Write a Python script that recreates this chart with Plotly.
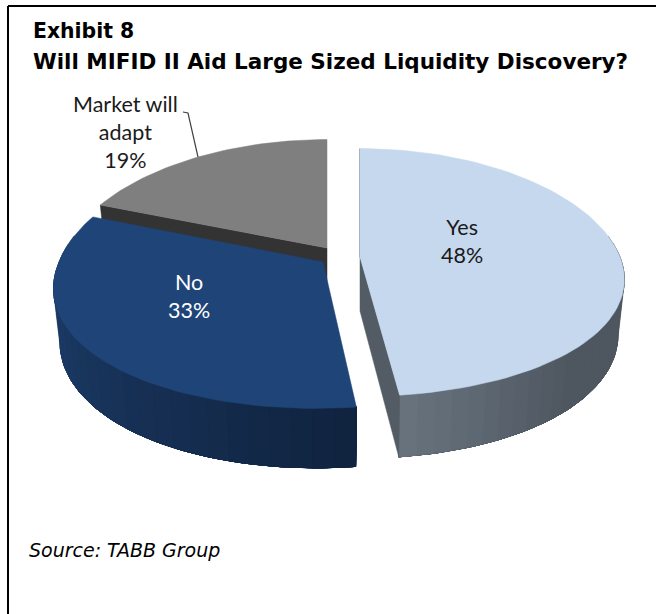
import math
import plotly.graph_objects as go

# Survey results
categories = ["Yes", "No", "Market will<br>adapt"]
values = [48, 33, 19]
top_colors = ["#c5d8ee", "#1f4578", "#7f7f7f"]
cut_colors = ["#535c65", "#16305a", "#333333"]
rim_light = ["#67727d", "#1d3e6c", "#333333"]
rim_dark = ["#4e565f", "#10233f", "#333333"]
text_colors = ["#1a1a1a", "#ffffff", "#1a1a1a"]
W, H = 656, 614

# Perspective pie geometry, in page pixels
RX, RY, KX, KY, TAPER = 260, 122, 0.18, 0.125, 0.024
apexes = [(360, 257), (323, 262), (327, 248)]
widths = [1.0, 1.015, 1.0]
heights = [1.0, 1.05, 1.0]
leans = [0.0, -0.05, 0.0]
depths = [54, 52, 54]


def project(idx, deg, radius=1.0, lowered=False):
    a = math.radians(deg)
    X, Y = radius * math.sin(a), -radius * math.cos(a)
    sx = 1 / (1 - KX * Y)
    sy = 1 / (1 - KY * Y)
    dx = RX * widths[idx] * X * sx + leans[idx] * RY * max(Y, 0) * sy
    dy = RY * heights[idx] * Y * sy
    if lowered:
        dx *= 1 - TAPER
        dy += depths[idx] * sy
    return apexes[idx][0] + dx, apexes[idx][1] + dy


def blend(c1, c2, t):
    p = [int(c1[i:i + 2], 16) for i in (1, 3, 5)]
    q = [int(c2[i:i + 2], 16) for i in (1, 3, 5)]
    return "rgb(%d,%d,%d)" % tuple(round(a + (b - a) * t) for a, b in zip(p, q))


def polygon(points, color):
    xs = [p[0] for p in points] + [points[0][0]]
    ys = [p[1] for p in points] + [points[0][1]]
    return go.Scatter(x=xs, y=ys, mode="lines", fill="toself", fillcolor=color,
                      line=dict(color=color, width=0.5), hoverinfo="skip", showlegend=False)


total = sum(values)
spans = []
start = 0.0
for v in values:
    spans.append((start, start + 360 * v / total))
    start += 360 * v / total

fig = go.Figure()

# Shaded wall bands: each band runs to the far end of the wall and the next one
# paints over it, which leaves no seams between neighbouring colours.
BANDS = 28


def add_wall(idx, t_from, t_to, shade):
    for b in range(BANDS):
        t = t_from + (t_to - t_from) * b / BANDS
        n = max(2, int(abs(t_to - t) / 1.5))
        ts = [t + (t_to - t) * i / n for i in range(n + 1)]
        color = blend(rim_light[idx], rim_dark[idx], shade(b / (BANDS - 1)))
        fig.add_trace(polygon([project(idx, u) for u in ts] +
                              [project(idx, u, lowered=True) for u in reversed(ts)], color))


def add_top(idx, steps):
    a0, a1 = spans[idx]
    fig.add_trace(polygon([project(idx, a0, radius=0)] +
                          [project(idx, a0 + (a1 - a0) * i / steps) for i in range(steps + 1)],
                          top_colors[idx]))


# Back slice first so the front slices overlap its cut face
a0, a1 = spans[2]
fig.add_trace(polygon([project(2, a0), project(2, a0, radius=0),
                       project(2, a0, radius=0, lowered=True), project(2, a0, lowered=True)],
                      cut_colors[2]))
add_top(2, 40)

# Pulled-out slice: wall brightens toward its front corner
a0, a1 = spans[0]
add_wall(0, 80, a1, lambda f: 1 - max(0.0, (f - 0.6) / 0.4))
fig.add_trace(polygon([project(0, a1, radius=0), project(0, a1),
                       project(0, a1, lowered=True), project(0, a1, radius=0, lowered=True)],
                      cut_colors[0]))
edge = [project(0, a0), project(0, a0, radius=0)]
fig.add_trace(go.Scatter(x=[p[0] for p in edge], y=[p[1] for p in edge], mode="lines",
                         line=dict(color="#7d8791", width=1.5),
                         hoverinfo="skip", showlegend=False))
add_top(0, 90)

# Left slice: wall darkens toward the front corner
a0, a1 = spans[1]
add_wall(1, 282, a0, lambda f: f ** 1.3)
add_top(1, 60)

# Leader line for the smallest slice
fig.add_trace(go.Scatter(x=[183, 188, 198], y=[112, 113, 157], mode="lines",
                         line=dict(color="#404040", width=1.2),
                         hoverinfo="skip", showlegend=False))

# Slice labels
label_positions = [(462, 241), (189, 296), (125, 132)]
annotations = [
    dict(x=x, y=y, xref="x", yref="y", showarrow=False,
         text=f"{c}<br>{v}%", align="center",
         font=dict(family="Lato, Carlito, sans-serif", size=21.5, color=col))
    for c, v, (x, y), col in zip(categories, values, label_positions, text_colors)
]

# Heading and source note
annotations += [
    dict(x=31, y=31, xref="x", yref="y", xanchor="left", showarrow=False,
         text="<b>Exhibit 8</b>",
         font=dict(family="DejaVu Sans, Verdana", size=20.4, color="#000000")),
    dict(x=31, y=61, xref="x", yref="y", xanchor="left", showarrow=False,
         text="<b>Will MIFID II Aid Large Sized Liquidity Discovery?</b>",
         font=dict(family="DejaVu Sans, Verdana", size=21.5, color="#000000")),
    dict(x=27, y=550, xref="x", yref="y", xanchor="left", showarrow=False,
         text="<i>Source: TABB Group</i>",
         font=dict(family="DejaVu Sans, Verdana", size=19, color="#000000")),
]

# Frame runs along the top and left only
frame = [
    dict(type="line", xref="x", yref="y", x0=8, x1=656, y0=6, y1=6,
         line=dict(color="#000000", width=2)),
    dict(type="line", xref="x", yref="y", x0=8, x1=8, y0=6, y1=614,
         line=dict(color="#000000", width=2)),
]

fig.update_layout(
    width=W, height=H, margin=dict(l=0, r=0, t=0, b=0),
    paper_bgcolor="#ffffff", plot_bgcolor="#ffffff", showlegend=False,
    xaxis=dict(range=[0, W], visible=False, fixedrange=True),
    yaxis=dict(range=[H, 0], visible=False, fixedrange=True),
    annotations=annotations, shapes=frame,
)

fig.write_html("out.html", config=dict(displayModeBar=False))
